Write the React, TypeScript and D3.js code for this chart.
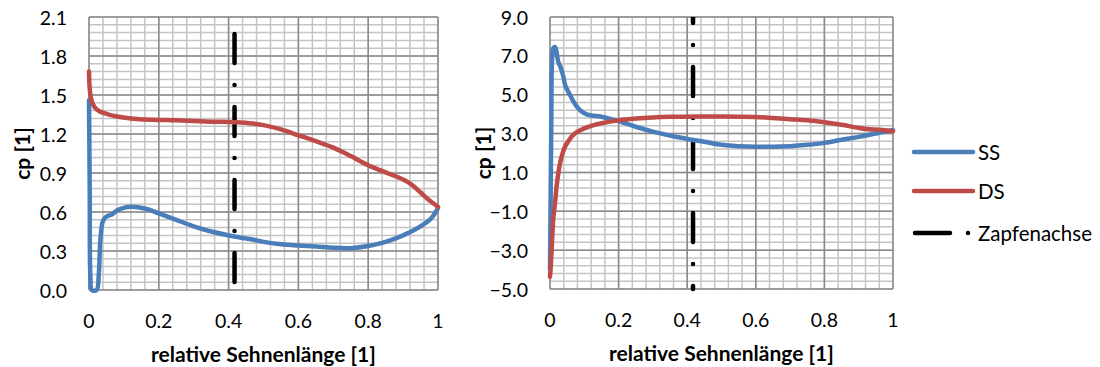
import React from "react";
import * as d3 from "d3";

// ---------- data ----------
const xTicks = [0, 0.2, 0.4, 0.6, 0.8, 1];
const xTickLabels = ["0", "0.2", "0.4", "0.6", "0.8", "1"];
const leftYTicks = [0, 0.3, 0.6, 0.9, 1.2, 1.5, 1.8, 2.1];
const rightYTicks = [-5, -3, -1, 1, 3, 5, 7, 9];

const xAxisTitle = "relative Sehnenlänge [1]";
const yAxisTitle = "cp [1]";
const seriesNames = ["SS", "DS", "Zapfenachse"];

// left chart: suction side (SS)
const leftSS: [number, number][] = [
  [0, 1.46], [0.002, 0.8], [0.004, 0.1], [0.008, 0], [0.022, 0], [0.028, 0.12],
  [0.033, 0.4], [0.04, 0.53], [0.05, 0.565], [0.065, 0.58], [0.08, 0.612],
  [0.1, 0.632], [0.12, 0.64], [0.14, 0.636], [0.17, 0.62], [0.2, 0.59],
  [0.25, 0.54], [0.3, 0.49], [0.35, 0.45], [0.42, 0.41], [0.475, 0.385],
  [0.5, 0.37], [0.55, 0.352], [0.6, 0.342], [0.65, 0.335], [0.7, 0.325],
  [0.75, 0.322], [0.8, 0.338], [0.85, 0.37], [0.9, 0.42], [0.95, 0.49],
  [0.98, 0.55], [1.0, 0.63],
];
// left chart: pressure side (DS)
const leftDS: [number, number][] = [
  [0, 1.68], [0.002, 1.55], [0.006, 1.47], [0.015, 1.41], [0.03, 1.375],
  [0.05, 1.355], [0.08, 1.335], [0.12, 1.32], [0.18, 1.31], [0.25, 1.305],
  [0.3, 1.3], [0.35, 1.295], [0.42, 1.29], [0.47, 1.28], [0.5, 1.268],
  [0.55, 1.235], [0.6, 1.19], [0.65, 1.145], [0.7, 1.095], [0.75, 1.03],
  [0.8, 0.96], [0.85, 0.905], [0.9, 0.85], [0.925, 0.81], [0.95, 0.75],
  [0.975, 0.69], [1.0, 0.64],
];
// right chart: suction side (SS)
const rightSS: [number, number][] = [
  [0, -4.0], [0.002, 0], [0.004, 4], [0.006, 6.8], [0.01, 7.4], [0.015, 7.45],
  [0.02, 7.1], [0.024, 6.7], [0.03, 6.45], [0.038, 6.0], [0.045, 5.45],
  [0.055, 5.1], [0.07, 4.6], [0.085, 4.25], [0.1, 4.05], [0.12, 3.93],
  [0.15, 3.87], [0.2, 3.64], [0.25, 3.35], [0.3, 3.1], [0.35, 2.9],
  [0.4, 2.72], [0.45, 2.58], [0.5, 2.42], [0.55, 2.35], [0.6, 2.32],
  [0.65, 2.32], [0.7, 2.35], [0.75, 2.42], [0.8, 2.52], [0.85, 2.68],
  [0.9, 2.83], [0.95, 3.0], [1.0, 3.18],
];
// right chart: pressure side (DS)
const rightDS: [number, number][] = [
  [0, -4.37], [0.003, -3.6], [0.006, -2.5], [0.01, -1.3], [0.015, -0.5],
  [0.02, 0.4], [0.029, 1.45], [0.037, 2.0], [0.044, 2.33], [0.055, 2.65],
  [0.065, 2.88], [0.08, 3.1], [0.1, 3.27], [0.125, 3.42], [0.15, 3.53],
  [0.2, 3.68], [0.25, 3.77], [0.3, 3.83], [0.35, 3.86], [0.4, 3.87],
  [0.5, 3.88], [0.6, 3.85], [0.65, 3.8], [0.7, 3.74], [0.75, 3.68],
  [0.8, 3.58], [0.85, 3.45], [0.9, 3.29], [0.93, 3.22], [0.96, 3.2],
  [1.0, 3.12],
];
// pivot axis (Zapfenachse)
const leftAxis: [number, number][] = [[0.417, 2.0], [0.417, 0]];
const rightAxis: [number, number][] = [[0.417, 9], [0.417, -5]];

// ---------- styles ----------
const FONT = "Lato, Carlito, Calibri, 'Open Sans', sans-serif";
const BLUE = "#4A7EBB";
const RED = "#BE4B48";
const MAJOR = "#8a8a8a";
const MINOR = "#c4c4c4";
const DASH = "29 22 0.01 22";
const TICK_FS = 19.5;
const TITLE_FS = 21;

type PanelProps = {
  left: number; right: number; top: number; bottom: number;
  yDomain: [number, number]; yTicks: number[]; yMinorStep: number;
  ss: [number, number][]; ds: [number, number][]; axis: [number, number][];
  dashOffset: number; id: string;
};

function Panel(p: PanelProps) {
  const x = d3.scaleLinear().domain([0, 1]).range([p.left, p.right]);
  const y = d3.scaleLinear().domain(p.yDomain).range([p.bottom, p.top]);
  const xMinor = d3.range(0, 26).map((i) => i * 0.04);
  const nY = Math.round((p.yDomain[1] - p.yDomain[0]) / p.yMinorStep);
  const yMinor = d3.range(0, nY + 1).map((i) => p.yDomain[0] + i * p.yMinorStep);
  const line = d3
    .line<[number, number]>()
    .x((d) => x(d[0]))
    .y((d) => y(d[1]))
    .curve(d3.curveCatmullRom.alpha(0.5));
  const straight = d3.line<[number, number]>().x((d) => x(d[0])).y((d) => y(d[1]));
  const fmt = d3.format(".1f");
  const cx = (p.left + p.right) / 2;
  const cy = (p.top + p.bottom) / 2;
  return (
    <g>
      <defs>
        <clipPath id={p.id}>
          <rect x={p.left - 3} y={p.top} width={p.right - p.left + 6} height={p.bottom - p.top + 3} />
        </clipPath>
      </defs>
      {/* minor grid */}
      {xMinor.map((v, i) => (
        <line key={"xm" + i} x1={x(v)} x2={x(v)} y1={p.top} y2={p.bottom} stroke={MINOR} strokeWidth={1.5} />
      ))}
      {yMinor.map((v, i) => (
        <line key={"ym" + i} x1={p.left} x2={p.right} y1={y(v)} y2={y(v)} stroke={MINOR} strokeWidth={1.5} />
      ))}
      {/* major grid */}
      {xTicks.map((v, i) => (
        <line key={"xM" + i} x1={x(v)} x2={x(v)} y1={p.top} y2={p.bottom} stroke={MAJOR} strokeWidth={1.5} />
      ))}
      {p.yTicks.map((v, i) => (
        <line key={"yM" + i} x1={p.left} x2={p.right} y1={y(v)} y2={y(v)} stroke={MAJOR} strokeWidth={1.5} />
      ))}
      {/* tick labels */}
      {xTicks.map((v, i) => (
        <text key={"xt" + i} x={x(v)} y={p.bottom + 30} textAnchor="middle" dominantBaseline="central"
          fontFamily={FONT} fontSize={TICK_FS} fill="#000">{xTickLabels[i]}</text>
      ))}
      {p.yTicks.map((v, i) => (
        <text key={"yt" + i} x={p.left - 22} y={y(v)} textAnchor="end" dominantBaseline="central"
          fontFamily={FONT} fontSize={TICK_FS} fill="#000">{fmt(v)}</text>
      ))}
      {/* axis titles */}
      <text x={cx} y={p.bottom + 63} textAnchor="middle" dominantBaseline="central"
        fontFamily={FONT} fontSize={TITLE_FS} fontWeight="bold" fill="#000">{xAxisTitle}</text>
      <text transform={`translate(${p.left - 68},${cy}) rotate(-90)`} textAnchor="middle" dominantBaseline="central"
        fontFamily={FONT} fontSize={TITLE_FS} fontWeight="bold" fill="#000">{yAxisTitle}</text>
      {/* series */}
      <g clipPath={`url(#${p.id})`}>
        <path d={straight(p.axis) || ""} fill="none" stroke="#000" strokeWidth={4.5}
          strokeLinecap="round" strokeDasharray={DASH} strokeDashoffset={p.dashOffset} />
        <path d={line(p.ss) || ""} fill="none" stroke={BLUE} strokeWidth={4.5} strokeLinejoin="round" strokeLinecap="round" />
        <path d={line(p.ds) || ""} fill="none" stroke={RED} strokeWidth={4.5} strokeLinejoin="round" strokeLinecap="round" />
      </g>
    </g>
  );
}

export default function App() {
  const legendY = [152, 191, 233];
  const legendColors = [BLUE, RED, "#000"];
  return (
    <svg width={1100} height={367} style={{ position: "absolute", left: 0, top: 0, background: "#fff" }}>
      <rect width={1100} height={367} fill="#fff" />
      <Panel id="clipL" left={89} right={438} top={17} bottom={290} yDomain={[0, 2.1]} yTicks={leftYTicks}
        yMinorStep={0.06} ss={leftSS} ds={leftDS} axis={leftAxis} dashOffset={-4} />
      <Panel id="clipR" left={550} right={893} top={17} bottom={289} yDomain={[-5, 9]} yTicks={rightYTicks}
        yMinorStep={0.4} ss={rightSS} ds={rightDS} axis={rightAxis} dashOffset={23} />
      {/* legend */}
      {seriesNames.map((name, i) => (
        <g key={name}>
          {i < 2 ? (
            <line x1={914} x2={973} y1={legendY[i]} y2={legendY[i]} stroke={legendColors[i]} strokeWidth={4.5} strokeLinecap="round" />
          ) : (
            <line x1={915} x2={970} y1={legendY[i]} y2={legendY[i]} stroke="#000" strokeWidth={4.5}
              strokeLinecap="round" strokeDasharray="35 18 0.01 40" />
          )}
          <text x={978} y={legendY[i]} dominantBaseline="central" fontFamily={FONT} fontSize={20.5} fill="#000">{name}</text>
        </g>
      ))}
    </svg>
  );
}
